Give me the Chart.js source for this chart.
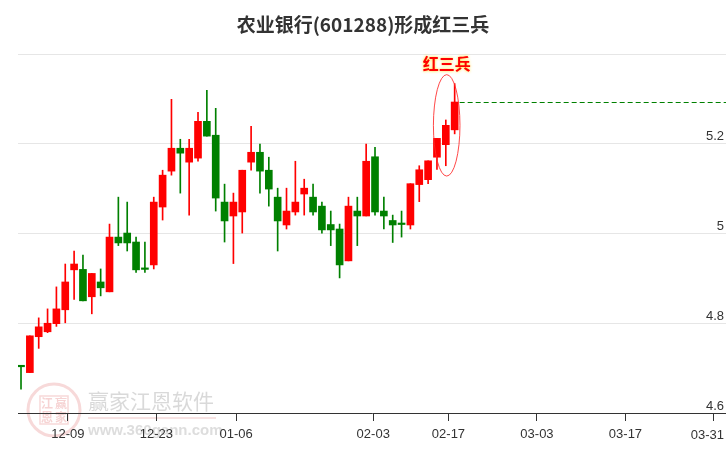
<!DOCTYPE html>
<html>
<head>
<meta charset="utf-8">
<script src="https://cdn.jsdelivr.net/npm/chart.js@4.4.1/dist/chart.umd.min.js"></script>
<style>
  body { margin: 0; background: #fff; }
  #wrap { width: 726px; height: 450px; }
</style>
</head>
<body>
<div id="wrap"><canvas id="kline" width="726" height="450"></canvas></div>
<script>
// daily candles, trading day index 0 = 12-02
const opens  = [4.704, 4.690, 4.770, 4.781, 4.799, 4.830, 4.919, 4.920, 4.859, 4.892,
                4.870, 4.992, 5.001, 4.981, 4.921, 4.930, 5.059, 5.139, 5.190, 5.159,
                5.168, 5.250, 5.219, 5.070, 5.039, 5.048, 5.159, 5.181, 5.141, 5.081,
                5.019, 5.048, 5.088, 5.081, 5.061, 5.020, 5.010, 4.939, 5.050, 5.039,
                5.171, 5.050, 5.029, 5.021, 5.019, 5.109, 5.120, 5.170, 5.198, 5.231];
const highs  = [4.704, 4.772, 4.812, 4.832, 4.881, 4.932, 4.961, 4.952, 4.911, 4.921,
                5.021, 5.081, 5.070, 4.992, 4.981, 5.081, 5.141, 5.299, 5.210, 5.210,
                5.270, 5.319, 5.279, 5.110, 5.090, 5.141, 5.239, 5.199, 5.170, 5.101,
                5.101, 5.161, 5.121, 5.110, 5.070, 5.050, 5.021, 5.081, 5.081, 5.199,
                5.192, 5.081, 5.041, 5.050, 5.111, 5.151, 5.162, 5.212, 5.253, 5.334];
const lows   = [4.653, 4.690, 4.744, 4.779, 4.793, 4.801, 4.853, 4.850, 4.821, 4.861,
                4.870, 4.973, 4.961, 4.913, 4.913, 4.921, 5.030, 5.130, 5.090, 5.041,
                5.161, 5.217, 5.050, 4.981, 4.933, 5.001, 5.141, 5.090, 5.061, 4.961,
                5.010, 5.041, 5.041, 5.041, 5.001, 4.973, 4.901, 4.939, 4.973, 5.039,
                5.041, 5.010, 4.980, 4.992, 5.010, 5.071, 5.111, 5.143, 5.151, 5.222];
const closes = [4.703, 4.772, 4.792, 4.800, 4.832, 4.892, 4.932, 4.850, 4.911, 4.879,
                4.992, 4.979, 4.979, 4.919, 4.920, 5.070, 5.130, 5.190, 5.179, 5.190,
                5.250, 5.217, 5.079, 5.028, 5.070, 5.141, 5.181, 5.139, 5.099, 5.028,
                5.050, 5.070, 5.101, 5.048, 5.008, 5.008, 4.930, 5.061, 5.039, 5.161,
                5.048, 5.039, 5.019, 5.020, 5.111, 5.142, 5.162, 5.212, 5.241, 5.293];

// x axis date labels and the trading-day slot they sit on
const tickLabels = ['12-09', '12-23', '01-06', '02-03', '02-17', '03-03', '03-17', '03-31'];
const tickSlots  = [5.3, 15.3, 24.3, 39.8, 48.3, 58.3, 68.3, 78.3];

// price axis
const priceTicks = [4.6, 4.8, 5.0, 5.2, 5.4];

// the three red soldiers
const patternDays = [47, 48, 49];
const patternName = '红三兵';
const titleText = '农业银行(601288)形成红三兵';

const UP = '#ff0000';
const DOWN = '#008000';
const AXIS_FONT = '13px "Liberation Sans"';

const candleColors = closes.map((c, i) => c >= opens[i] ? UP : DOWN);

const overlay = {
    id: 'overlay',
    beforeDraw(chart) {
        const ctx = chart.ctx;
        ctx.save();
        // title, centred on the whole canvas
        ctx.fillStyle = '#333';
        ctx.font = 'bold 19px "Noto Sans CJK SC"';
        ctx.textAlign = 'center';
        ctx.textBaseline = 'middle';
        ctx.fillText(titleText, chart.width / 2, 25);

        // watermark
        ctx.strokeStyle = 'rgba(225,120,120,0.28)';
        ctx.lineWidth = 3;
        ctx.beginPath();
        ctx.arc(54, 410, 26, 0, Math.PI * 2);
        ctx.stroke();
        ctx.lineWidth = 1.5;
        ctx.strokeRect(40, 396, 28, 28);
        ctx.fillStyle = 'rgba(225,110,110,0.3)';
        ctx.font = 'bold 12px "Noto Sans CJK SC"';
        ctx.fillText('江', 47, 403);
        ctx.fillText('赢', 61, 403);
        ctx.fillText('恩', 47, 417);
        ctx.fillText('家', 61, 417);
        ctx.fillStyle = 'rgba(170,170,170,0.45)';
        ctx.font = '21px "Noto Sans CJK SC"';
        ctx.textAlign = 'left';
        ctx.fillText('赢家江恩软件', 88, 401);
        ctx.fillStyle = 'rgba(225,140,140,0.25)';
        ctx.fillRect(88, 417, 128, 2);
        ctx.fillStyle = 'rgba(170,170,170,0.4)';
        ctx.font = 'bold 15px "Liberation Sans"';
        ctx.fillText('www.360gann.com', 88, 431);
        ctx.restore();
    },
    afterDraw(chart) {
        // last date label would run off the canvas: keep it inside, right-aligned
        const ctx = chart.ctx;
        const xs = chart.scales.x;
        ctx.save();
        ctx.fillStyle = '#333';
        ctx.font = AXIS_FONT;
        ctx.textAlign = 'right';
        ctx.textBaseline = 'middle';
        ctx.fillText(tickLabels[tickLabels.length - 1], chart.width - 2, xs.top + 22);
        ctx.restore();
    },
    afterDatasetsDraw(chart) {
        const ctx = chart.ctx;
        const xs = chart.scales.x;
        const ys = chart.scales.y;
        const last = closes.length - 1;
        ctx.save();

        // dashed line from last close
        const yLast = Math.round(ys.getPixelForValue(closes[last])) + 0.5;
        ctx.strokeStyle = DOWN;
        ctx.lineWidth = 1;
        ctx.setLineDash([5, 3]);
        ctx.beginPath();
        ctx.moveTo(xs.getPixelForValue(last) + 5, yLast);
        ctx.lineTo(chart.chartArea.right, yLast);
        ctx.stroke();
        ctx.setLineDash([]);

        // ellipse round the pattern
        const first = patternDays[0];
        const end = patternDays[patternDays.length - 1];
        const top = ys.getPixelForValue(Math.max(...patternDays.map(d => highs[d])) + 0.02);
        const bottom = ys.getPixelForValue(Math.min(...patternDays.map(d => lows[d])) - 0.015);
        const left = xs.getPixelForValue(first - 0.4);
        const right = xs.getPixelForValue(end + 0.6);
        const cx = (left + right) / 2;
        ctx.strokeStyle = 'rgba(255,40,40,0.85)';
        ctx.beginPath();
        ctx.ellipse(cx, (top + bottom) / 2, (right - left) / 2, (bottom - top) / 2, 0, 0, Math.PI * 2);
        ctx.stroke();

        // label
        ctx.font = 'bold 16px "Noto Sans CJK SC"';
        ctx.textAlign = 'center';
        ctx.textBaseline = 'middle';
        ctx.shadowColor = 'rgba(255,220,0,0.9)';
        ctx.shadowBlur = 3;
        ctx.fillStyle = '#ff0000';
        ctx.fillText(patternName, cx, top - 11);
        ctx.restore();
    }
};

new Chart(document.getElementById('kline'), {
    type: 'bar',
    data: {
        datasets: [
            {
                label: 'body',
                data: opens.map((o, i) => ({ x: i, y: [o, closes[i]] })),
                backgroundColor: candleColors,
                barThickness: 7,
                minBarLength: 1.5,
                borderWidth: 0,
                grouped: false
            },
            {
                label: 'wick',
                data: lows.map((l, i) => ({ x: i, y: [l, highs[i]] })),
                backgroundColor: candleColors,
                barThickness: 1,
                borderWidth: 0,
                grouped: false
            }
        ]
    },
    options: {
        responsive: false,
        animation: false,
        events: [],
        layout: { padding: { left: 18, right: 0, top: 54, bottom: 0 } },
        plugins: {
            legend: { display: false },
            tooltip: { enabled: false },
            title: { display: false }
        },
        scales: {
            x: {
                type: 'linear',
                offset: false,
                min: -0.34,
                max: 79.66,
                afterBuildTicks: axis => { axis.ticks = tickSlots.map(v => ({ value: v })); },
                afterFit: axis => {
                    axis.height = 37;
                    axis.paddingLeft = 0;
                    axis.paddingRight = 0;
                },
                grid: { offset: false, drawOnChartArea: false, color: '#333', tickLength: 8 },
                border: { display: true, color: '#333', width: 1 },
                ticks: {
                    autoSkip: false,
                    maxRotation: 0,
                    padding: 6,
                    color: '#333',
                    font: { family: '"Liberation Sans"', size: 13 },
                    callback: (v, i) => i === tickLabels.length - 1 ? '' : tickLabels[i]
                }
            },
            y: {
                position: 'right',
                min: 4.6,
                max: 5.4,
                afterBuildTicks: axis => { axis.ticks = priceTicks.map(v => ({ value: v })); },
                afterFit: axis => {
                    axis.width = 0;
                    axis.paddingTop = 0;
                    axis.paddingBottom = 0;
                },
                grid: { color: '#e6e6e6', drawTicks: false },
                border: { display: false },
                ticks: {
                    mirror: true,
                    padding: -2,
                    labelOffset: -7,
                    color: '#333',
                    font: { family: '"Liberation Sans"', size: 13 },
                    callback: v => v >= 5.39 ? '' : String(Number(v.toFixed(1)))
                }
            }
        }
    },
    plugins: [overlay]
});
</script>
</body>
</html>
